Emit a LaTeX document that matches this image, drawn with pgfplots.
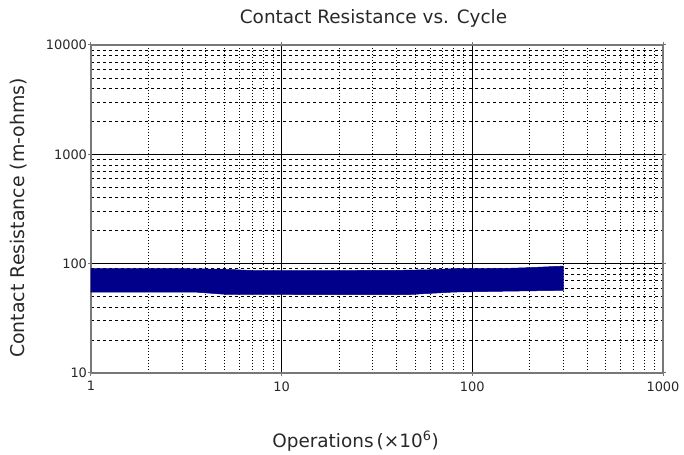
\documentclass[border=0pt]{standalone}
\usepackage{pgfplots}
\pgfplotsset{compat=1.18}
\usepackage{fontspec}
\setmainfont{DejaVu Sans}
\definecolor{band}{RGB}{0,0,139}
\definecolor{txt}{RGB}{40,40,40}
\definecolor{frame}{RGB}{120,120,120}
\begin{document}
\begin{tikzpicture}[x=1bp,y=1bp]
\path[use as bounding box] (-91bp,-82bp) rectangle (593bp,373bp);
\begin{loglogaxis}[
  scale only axis,
  width=572bp, height=328bp,
  xmin=1, xmax=1000, ymin=10, ymax=10000,
  xtick={1,10,100,1000}, xticklabels={1,10,100,1000},
  ytick={10,100,1000,10000}, yticklabels={10,100,1000,10000},
  minor xtick={2,3,4,5,6,7,8,9,20,30,40,50,60,70,80,90,200,300,400,500,600,700,800,900},
  minor ytick={20,30,40,50,60,70,80,90,200,300,400,500,600,700,800,900,2000,3000,4000,5000,6000,7000,8000,9000},
  grid=both,
  major grid style={black, line width=0.9bp},
  minor x grid style={black, line width=0.8bp, dash pattern=on 1bp off 2bp},
  minor y grid style={black, line width=0.8bp, dash pattern=on 3bp off 3bp},
  axis line style={frame, line width=1.3bp},
  tick style={frame, line width=1bp},
  tick align=outside,
  major tick length=3bp,
  minor tick length=0bp,
  /pgf/number format/assume math mode=true,
  tick label style={font=\fontsize{13}{15}\selectfont, text=txt},
  xticklabel style={yshift=-2bp},
  yticklabel style={xshift=2.5bp},
]
\addplot[fill=band, draw=band, line width=0.5bp] coordinates {
  (1,90) (3,90) (5,89) (7,86.5) (10,86.5) (20,86.5) (40,86.8) (60,88) (80,90) (150,90.5) (200,92) (300,95)
  (300,57) (150,56) (80,55) (60,53.5) (45,52) (20,52) (10,52.3) (5,52.5) (3.5,55) (1,55)
} -- cycle;
\end{loglogaxis}
\node[anchor=base, text=txt, font=\fontsize{18.5}{22}\selectfont] at (282.5bp,349bp) {Contact Resistance vs. Cycle};
\node[anchor=base, text=txt, font=\fontsize{18.5}{22}\selectfont] at (264.5bp,-74bp) {Operations\,(×10\textsuperscript{6})};
\node[anchor=base, rotate=90, text=txt, font=\fontsize{19}{22}\selectfont] at (-66bp,155bp) {Contact Resistance (m-ohms)};
\end{tikzpicture}
\end{document}
